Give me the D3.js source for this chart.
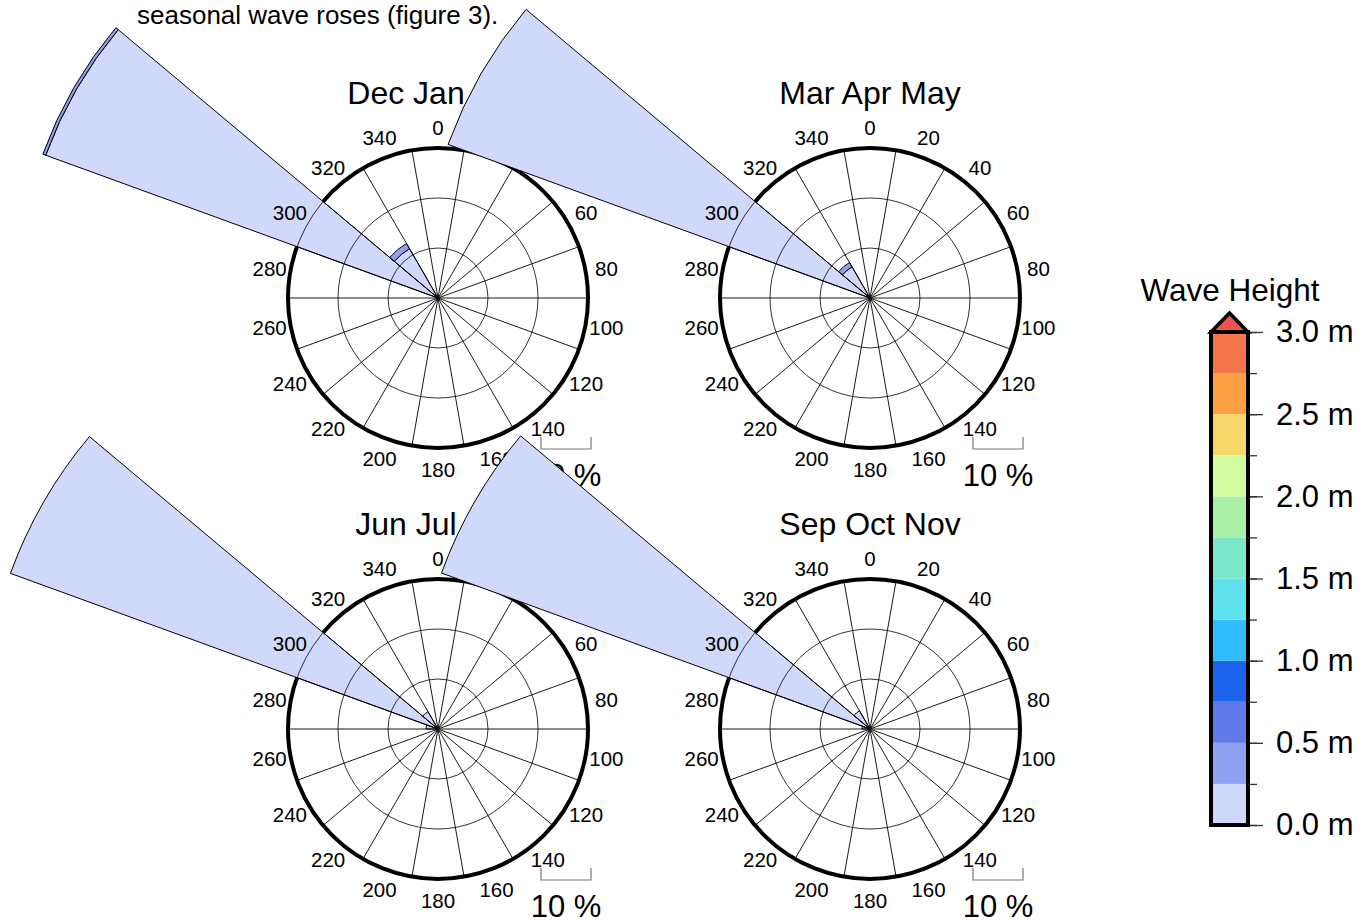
<!DOCTYPE html>
<html>
<head>
<meta charset="utf-8">
<script src="https://cdn.jsdelivr.net/npm/d3@7"></script>
<style>
  body { margin: 0; background: #fff; }
  svg { display: block; font-family: "Liberation Sans", Arial, sans-serif; }
</style>
</head>
<body>
<div class="canvas"></div>
<script>
const WIDTH = 1361;
const HEIGHT = 920;

// data
const seasons = ['Dec Jan Feb', 'Mar Apr May', 'Jun Jul Aug', 'Sep Oct Nov'];
const dirBins = [280, 300, 320];           // bin centres, 20 deg wide
// frequency (%) per direction bin, stacked by wave height class
const freqDJF = [[0], [83.5, 0.6], [11.4, 1.2]];
const freqMAM = [[0], [89.8], [7.2, 1.0]];
const freqJJA = [[2.4], [91.0], [4.0]];
const freqSON = [[1.6], [91.2], [4.2]];
const heightBreaks = [0, 0.25, 0.5, 0.75, 1, 1.25, 1.5, 1.75, 2, 2.25, 2.5, 2.75, 3];
const heightColors = ['#d1d9fb', '#8ea0f0', '#6279ea', '#1c64eb', '#30bcfd', '#5fe2ee',
  '#7ae8c8', '#a8f0a6', '#d3fc9e', '#f5d76b', '#fda043', '#f3754a'];
const overColor = '#ef5150';
const heightTicks = [0, 0.5, 1, 1.5, 2, 2.5, 3];
const ringLevels = [10, 20, 30];
const angleLabels = d3.range(0, 360, 20);
const spokeAngles = d3.range(10, 360, 20);

const seasonFreq = [freqDJF, freqMAM, freqJJA, freqSON];
const centres = [[438, 298], [870, 298], [438, 729], [870, 729]];

const svg = d3.select('.canvas')
  .append('svg')
    .attr('width', WIDTH)
    .attr('height', HEIGHT);

svg.append('text')
  .attr('x', 137)
  .attr('y', 24)
  .attr('font-size', 26)
  .text('seasonal wave roses (figure 3).');

const r = d3.scaleLinear().domain([0, 30]).range([0, 150]);
const rad = d => d * Math.PI / 180;
const arc = d3.arc();

seasons.forEach((name, i) => {
  const [cx, cy] = centres[i];
  const g = svg.append('g').attr('transform', `translate(${cx},${cy})`);

  // title and thick frame underneath the petals
  g.append('text')
    .attr('y', -194)
    .attr('text-anchor', 'middle')
    .attr('font-size', 32)
    .text(name);

  g.append('circle')
    .attr('r', r(30))
    .attr('fill', 'none')
    .attr('stroke', '#000')
    .attr('stroke-width', 4);

  // petals, stacked by height class
  seasonFreq[i].forEach((stack, j) => {
    const dir = dirBins[j];
    let acc = 0;
    stack.forEach((v, k) => {
      if (v <= 0) return;
      g.append('path')
        .attr('d', arc({
          innerRadius: r(acc),
          outerRadius: r(acc + v),
          startAngle: rad(dir - 10),
          endAngle: rad(dir + 10)
        }))
        .attr('fill', heightColors[k])
        .attr('stroke', '#000')
        .attr('stroke-width', 1);
      acc += v;
    });
  });

  // grid on top
  g.selectAll('.ring')
    .data(ringLevels)
    .enter().append('circle')
      .attr('r', d => r(d))
      .attr('fill', 'none')
      .attr('stroke', '#000')
      .attr('stroke-width', 0.8);

  g.selectAll('.spoke')
    .data(spokeAngles)
    .enter().append('line')
      .attr('x1', 0).attr('y1', 0)
      .attr('x2', d => r(30) * Math.sin(rad(d)))
      .attr('y2', d => -r(30) * Math.cos(rad(d)))
      .attr('stroke', '#000')
      .attr('stroke-width', 0.9);

  g.selectAll('.alab')
    .data(angleLabels)
    .enter().append('text')
      .attr('x', d => 171 * Math.sin(rad(d)))
      .attr('y', d => -171 * Math.cos(rad(d)))
      .attr('text-anchor', 'middle')
      .attr('dominant-baseline', 'central')
      .attr('font-size', 20.5)
      .text(d => d);

  // 10 % scale bracket
  const bx = 103;
  g.append('path')
    .attr('d', `M${bx},139V151H${bx + r(10)}V139`)
    .attr('fill', 'none')
    .attr('stroke', '#777')
    .attr('stroke-width', 1.2);
  g.append('text')
    .attr('x', bx + r(10) / 2)
    .attr('y', 188)
    .attr('text-anchor', 'middle')
    .attr('font-size', 31)
    .text('10 %');
});

// colour bar
const barX = 1211;
const barW = 37;
const y = d3.scaleLinear().domain([0, 3]).range([825, 332]);
const bar = svg.append('g');

bar.append('text')
  .attr('x', 1230)
  .attr('y', 301)
  .attr('text-anchor', 'middle')
  .attr('font-size', 31.5)
  .text('Wave Height');

bar.selectAll('rect')
  .data(heightColors)
  .enter().append('rect')
    .attr('x', barX)
    .attr('y', (d, i) => y(heightBreaks[i + 1]))
    .attr('width', barW)
    .attr('height', (d, i) => y(heightBreaks[i]) - y(heightBreaks[i + 1]))
    .attr('fill', d => d);

bar.append('path')
  .attr('d', `M${barX},${y(3)}L${barX + barW / 2},${y(3) - 19}L${barX + barW},${y(3)}Z`)
  .attr('fill', overColor)
  .attr('stroke', '#000')
  .attr('stroke-width', 3.5)
  .attr('stroke-linejoin', 'miter');

bar.append('rect')
  .attr('x', barX)
  .attr('y', y(3))
  .attr('width', barW)
  .attr('height', y(0) - y(3))
  .attr('fill', 'none')
  .attr('stroke', '#000')
  .attr('stroke-width', 4);

const minorAxis = d3.axisRight(y)
  .tickValues(heightBreaks)
  .tickSize(7)
  .tickFormat('');
bar.append('g')
  .attr('transform', `translate(${barX + barW + 2},0)`)
  .call(minorAxis)
  .call(a => a.select('.domain').remove())
  .selectAll('line').attr('stroke', '#333').attr('stroke-width', 1.3);

const yAxis = d3.axisRight(y)
  .tickValues(heightTicks)
  .tickSize(13)
  .tickPadding(13)
  .tickFormat(d => `${d.toFixed(1)} m`);
const yAxisGroup = bar.append('g')
  .attr('transform', `translate(${barX + barW + 2},0)`)
  .call(yAxis);
yAxisGroup.select('.domain').remove();
yAxisGroup.selectAll('line').attr('stroke', '#333').attr('stroke-width', 1.3);
yAxisGroup.selectAll('text')
  .attr('font-size', 31)
  .attr('font-family', '"Liberation Sans", Arial, sans-serif')
  .attr('fill', '#000');
</script>
</body>
</html>
